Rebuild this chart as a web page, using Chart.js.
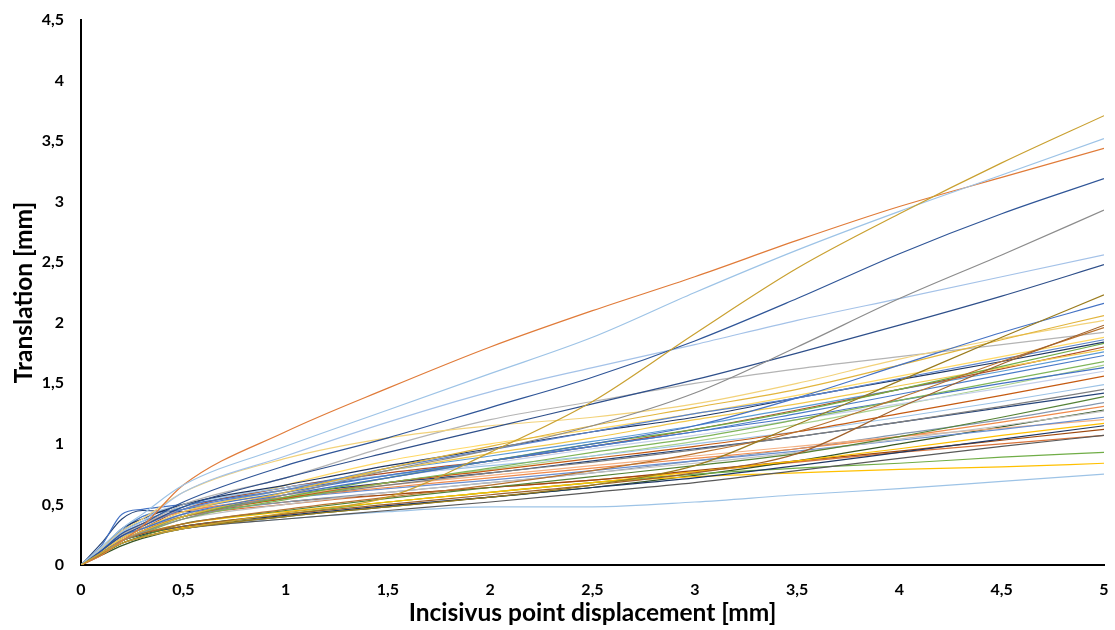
<!DOCTYPE html>
<html>
<head>
<meta charset="utf-8">
<script src="https://cdn.jsdelivr.net/npm/chart.js@4.4.1/dist/chart.umd.min.js"></script>
<style>
    html, body { margin: 0; padding: 0; background: #fff; }
    #wrap { width: 1115px; height: 630px; }
</style>
</head>
<body>
<div id="wrap"><canvas id="grafico" width="1115" height="630"></canvas></div>
<script>
// displacement values shared by every curve [mm]
const displacement = [0, 0.1, 0.2, 0.3, 0.5, 1, 1.5, 2, 2.5, 3, 3.5, 4, 4.5, 5];

// translation of each specimen [mm]
const translation = [
    [0, .10, .18, .23, .30, .43, .56, .93, 1.35, 1.91, 2.45, 2.90, 3.32, 3.71],
    [0, .15, .30, .42, .66, .98, 1.28, 1.58, 1.88, 2.25, 2.60, 2.92, 3.22, 3.52],
    [0, .08, .20, .32, .66, 1.10, 1.46, 1.80, 2.10, 2.38, 2.68, 2.96, 3.20, 3.44],
    [0, .12, .26, .34, .52, .82, 1.05, 1.30, 1.55, 1.85, 2.20, 2.57, 2.90, 3.19],
    [0, .10, .20, .27, .38, .58, .78, .95, 1.15, 1.42, 1.80, 2.20, 2.56, 2.93],
    [0, .13, .27, .36, .60, .90, 1.18, 1.43, 1.63, 1.82, 2.02, 2.20, 2.38, 2.56],
    [0, .12, .24, .32, .48, .72, .93, 1.13, 1.33, 1.53, 1.75, 1.98, 2.22, 2.48],
    [0, .09, .18, .23, .30, .40, .48, .56, .66, .82, 1.16, 1.52, 1.88, 2.23],
    [0, .12, .24, .30, .42, .58, .72, .86, 1.00, 1.15, 1.38, 1.65, 1.92, 2.16],
    [0, .10, .20, .28, .40, .60, .80, .98, 1.15, 1.30, 1.45, 1.65, 1.86, 2.06],
    [0, .14, .28, .38, .60, .88, 1.05, 1.15, 1.22, 1.33, 1.50, 1.70, 1.87, 2.02],
    [0, .10, .20, .26, .32, .42, .50, .58, .66, .76, .92, 1.30, 1.66, 1.98],
    [0, .10, .20, .26, .34, .46, .56, .66, .78, .92, 1.10, 1.38, 1.68, 1.96],
    [0, .12, .25, .33, .50, .72, .98, 1.20, 1.35, 1.50, 1.62, 1.72, 1.82, 1.92],
    [0, .12, .25, .32, .46, .62, .80, .95, 1.10, 1.25, 1.38, 1.54, 1.70, 1.86],
    [0, .13, .30, .38, .50, .66, .82, .96, 1.10, 1.22, 1.38, 1.53, 1.68, 1.84],
    [0, .10, .20, .27, .40, .56, .72, .86, 1.00, 1.12, 1.27, 1.45, 1.64, 1.83],
    [0, .11, .22, .30, .44, .62, .78, .92, 1.05, 1.20, 1.33, 1.48, 1.63, 1.78],
    [0, .12, .28, .40, .46, .60, .74, .86, .98, 1.10, 1.25, 1.41, 1.57, 1.73],
    [0, .10, .20, .26, .38, .54, .68, .80, .93, 1.05, 1.20, 1.36, 1.52, 1.68],
    [0, .12, .24, .30, .42, .58, .72, .84, .96, 1.07, 1.20, 1.33, 1.46, 1.60],
    [0, .10, .20, .28, .40, .55, .68, .78, .88, .98, 1.10, 1.25, 1.40, 1.56],
    [0, .14, .30, .40, .50, .64, .74, .82, .90, 1.00, 1.10, 1.22, 1.35, 1.49],
    [0, .10, .22, .30, .42, .55, .66, .76, .85, .95, 1.06, 1.18, 1.31, 1.45],
    [0, .09, .18, .24, .34, .45, .55, .64, .73, .82, .92, 1.06, 1.22, 1.39],
    [0, .12, .24, .34, .44, .56, .64, .72, .80, .88, .96, 1.06, 1.18, 1.31],
    [0, .10, .20, .28, .38, .50, .60, .68, .76, .84, .93, 1.04, 1.15, 1.27],
    [0, .12, .26, .34, .44, .55, .63, .70, .78, .86, .94, 1.03, 1.12, 1.22],
    [0, .10, .20, .26, .34, .44, .52, .60, .68, .77, .86, .96, 1.07, 1.17],
    [0, .10, .20, .25, .32, .41, .49, .56, .64, .72, .82, .93, 1.04, 1.15],
    [0, .09, .18, .23, .30, .38, .45, .52, .60, .68, .78, .88, .98, 1.07],
    [0, .12, .25, .34, .46, .58, .66, .74, .82, .90, .98, 1.06, 1.13, 1.20],
    [0, .10, .20, .25, .32, .42, .52, .60, .68, .75, .80, .84, .89, .93],
    [0, .10, .20, .25, .31, .42, .52, .60, .68, .73, .76, .79, .81, .84],
    [0, .10, .18, .23, .30, .38, .44, .48, .48, .52, .58, .63, .69, .75],
    [0, .16, .42, .46, .50, .62, .74, .86, .98, 1.10, 1.22, 1.36, 1.50, 1.63],
    [0, .18, .38, .45, .44, .58, .68, .76, .86, .96, 1.06, 1.18, 1.30, 1.42],
    [0, .10, .22, .30, .46, .64, .76, .86, .98, 1.12, 1.28, 1.45, 1.62, 1.80],
    [0, .10, .20, .27, .40, .56, .68, .79, .90, 1.02, 1.16, 1.32, 1.48, 1.65],
    [0, .11, .22, .30, .40, .52, .60, .68, .76, .86, .96, 1.08, 1.20, 1.34],
    [0, .10, .20, .28, .40, .52, .58, .64, .70, .78, .86, .94, 1.03, 1.12],
    [0, .10, .20, .28, .42, .66, .86, 1.00, 1.12, 1.25, 1.40, 1.56, 1.72, 1.88],
    [0, .14, .28, .36, .48, .64, .78, .90, 1.02, 1.15, 1.30, 1.45, 1.60, 1.76],
    [0, .08, .16, .22, .30, .40, .48, .56, .64, .74, .86, 1.00, 1.14, 1.28],
    [0, .12, .24, .30, .40, .50, .58, .64, .70, .77, .85, .93, 1.00, 1.07]
];

// line colours, same order as translation
const colores = [
    '#C9A030', '#9DC3E6', '#E07B39', '#2F5597', '#8C8C8C', '#A4C2E8', '#2E4F8A', '#9A7B1C',
    '#4472C4', '#E2B53E', '#F2D27A', '#A0602A', '#B8722F', '#B4B4B4', '#5B84CC', '#203864',
    '#70AD47', '#F2C94C', '#4A7BC8', '#7FB55A', '#C5D0EA', '#C55A11', '#9DC3E6', '#7F7F7F',
    '#548235', '#F08A4B', '#C0C0C0', '#6A8FD0', '#FFC000', '#1F3864', '#595959', '#F4B183',
    '#70AD47', '#FFC000', '#9DC3E6', '#4472C4', '#264478', '#B0502A', '#A9D18E', '#8497B0',
    '#9E480E', '#FFD966', '#5B9BD5', '#375623', '#D9733A'
];

const xTicks = [0, 0.5, 1, 1.5, 2, 2.5, 3, 3.5, 4, 4.5, 5];
const yTicks = [0, 0.5, 1, 1.5, 2, 2.5, 3, 3.5, 4, 4.5];

function coma(v) {
    return String(v).replace('.', ',');
}

let datasets = translation.map(function (serie, i) {
    return {
        data: serie.map(function (y, j) { return { x: displacement[j], y: y }; }),
        borderColor: colores[i % colores.length],
        borderWidth: 1.2,
        pointRadius: 0,
        fill: false,
        cubicInterpolationMode: 'monotone'
    };
});

const tickFont = { family: 'Lato', size: 16, weight: 'bold' };
const titleFont = { family: 'Lato', size: 24.5, weight: 'bold' };

let canvas = document.getElementById('grafico').getContext('2d');
var chart = new Chart(canvas, {
    type: 'line',
    data: { datasets: datasets },
    options: {
        responsive: false,
        animation: false,
        layout: { padding: { top: 20, right: 11, left: 0, bottom: 0 } },
        plugins: { legend: { display: false }, tooltip: { enabled: false } },
        scales: {
            x: {
                type: 'linear',
                min: 0,
                max: 5,
                afterBuildTicks: function (s) { s.ticks = xTicks.map(function (v) { return { value: v }; }); },
                afterFit: function (s) {
                    s.height = 65;
                    s.paddingLeft = 0;
                    s.paddingRight = 0;
                },
                grid: { display: false, drawTicks: false },
                border: { display: true, color: '#000', width: 2 },
                ticks: { color: '#000', font: tickFont, padding: 15, maxRotation: 0, callback: coma },
                title: { display: true, text: 'Incisivus point displacement [mm]', color: '#000', font: titleFont, padding: { top: 0, bottom: 2 } }
            },
            y: {
                min: 0,
                max: 4.5,
                afterBuildTicks: function (s) { s.ticks = yTicks.map(function (v) { return { value: v }; }); },
                afterFit: function (s) {
                    s.width = 81;
                    s.paddingTop = 0;
                    s.paddingBottom = 0;
                },
                grid: { display: false, drawTicks: false },
                border: { display: true, color: '#000', width: 2 },
                ticks: { color: '#000', font: tickFont, padding: 17, callback: coma },
                title: { display: true, text: 'Translation [mm]', color: '#000', font: titleFont, padding: { top: 9, bottom: 0 } }
            }
        }
    }
});
</script>
</body>
</html>
